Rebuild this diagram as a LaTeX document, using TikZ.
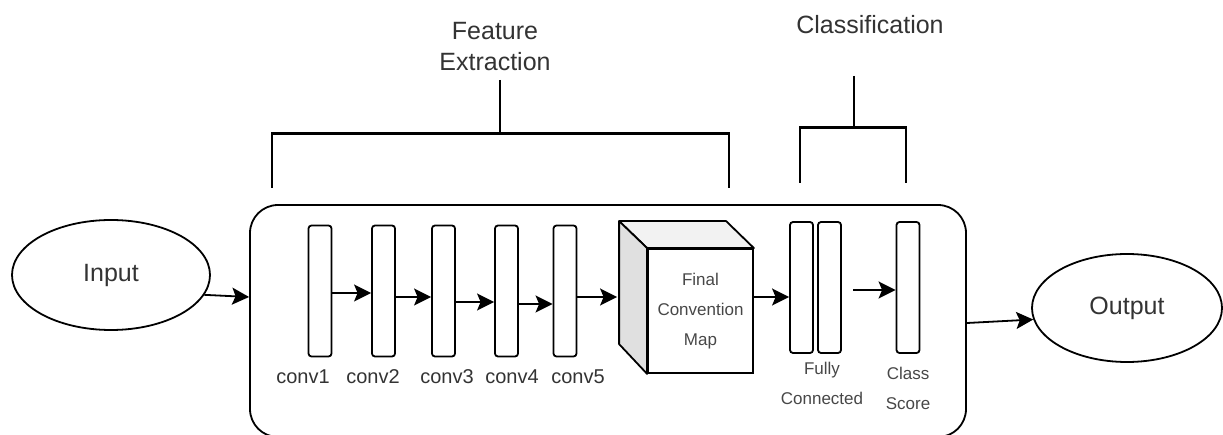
\documentclass[tikz,border=0pt]{standalone}
\usepackage{fontspec}
\setmainfont{Liberation Sans}
\usetikzlibrary{shapes.geometric,arrows.meta,calc}
\definecolor{txt}{HTML}{333333}
\definecolor{txtl}{HTML}{474747}
\definecolor{sidegray}{HTML}{E0E0E0}
\definecolor{topgray}{HTML}{F2F2F2}
\tikzset{
  lw/.style={line width=1.8pt},
  bar/.style={draw, lw, rounded corners=3pt, minimum width=23pt, minimum height=131pt, inner sep=0pt},
  oval/.style={draw, lw, ellipse, inner sep=0pt, text=txt, font=\fontsize{25}{30}\selectfont},
  arr/.style={lw, -{Stealth[length=17pt,width=17pt,inset=3.5pt]}},
  biglabel/.style={text=txt, font=\fontsize{25}{31}\selectfont, align=center, inner sep=0pt},
  convlabel/.style={text=txt, font=\fontsize{20}{24}\selectfont, inner sep=0pt},
  smalllabel/.style={text=txtl, font=\fontsize{17}{30}\selectfont, align=center, inner sep=0pt},
  bracket/.style={line width=2pt},
  bracketbar/.style={line width=3pt}
}
\begin{document}
\begin{tikzpicture}[x=1pt,y=-1pt]
\useasboundingbox (0,0) rectangle (1223,435);

% frame
\node[draw, lw, rounded corners=28pt, minimum width=716pt, minimum height=232pt, inner sep=0pt] (frame) at (608,321) {};

% input / output
\node[oval, minimum width=198pt, minimum height=110pt] (input) at (111,275) {Input};
\node[oval, minimum width=190pt, minimum height=108pt] (output) at (1127,308) {Output};

% conv bars
\node[bar] (c1) at (320,291) {};
\node[bar] (c2) at (383.5,291) {};
\node[bar] (c3) at (443.5,291) {};
\node[bar] (c4) at (506.5,291) {};
\node[bar] (c5) at (565,291) {};

\node[convlabel] (l1) at (303,377) {conv1};
\node[convlabel] (l2) at (373,377) {conv2};
\node[convlabel] (l3) at (447,377) {conv3};
\node[convlabel] (l4) at (512,377) {conv4};
\node[convlabel] (l5) at (578,377) {conv5};

% cube
\node[draw, lw, minimum width=105pt, minimum height=124pt, inner sep=0pt, smalllabel] (cube) at (700.5,311) {Final\\Convention\\Map};
\draw[lw, fill=topgray, line join=round] (cube.north west) -- ++(-28,-27) -- ++(107,0) -- (cube.north east) -- cycle;
\draw[lw, fill=sidegray, line join=round] (cube.north west) -- ++(-28,-27) -- ++(0,123) -- (cube.south west) -- cycle;

% FC and class
\node[bar] (f1) at (801.5,287.5) {};
\node[bar] (f2) at (829.5,287.5) {};
\node[bar] (cs) at (908,287.5) {};
\node[smalllabel] (fl) at (822,383) {Fully\\Connected};
\node[smalllabel] (cl) at (908,388) {Class\\Score};

% arrows
\draw[arr] (input.-12) -- (frame.west |- 0,297);
\draw[arr] (c1.east |- 0,293) -- (c2.west |- 0,293);
\draw[arr] (c2.east |- 0,297) -- (c3.west |- 0,297);
\draw[arr] (c3.east |- 0,302) -- (c4.west |- 0,302);
\draw[arr] (c4.east |- 0,304) -- (c5.west |- 0,304);
\draw[arr] (c5.east |- 0,297) -- ($(cube.west |- 0,297)+(-30,0)$);
\draw[arr] (cube.east |- 0,297) -- (f1.west |- 0,297);
\coordinate (fcout) at (853,290);
\draw[arr] (fcout) -- (cs.west |- fcout);
\draw[arr] (frame.east |- 0,323) -- (output.187);

% brackets
\node[biglabel] (fe) at (495,47) {Feature\\Extraction};
\node[biglabel] (cls) at (870,25) {Classification};
\draw[bracket] (272,188) -- (272,134);
\draw[bracket] (729,188) -- (729,134);
\draw[bracketbar] (271,134) -- (730,134);
\draw[bracket] (500,80) -- (500,134);
\draw[bracket] (800,183) -- (800,128);
\draw[bracket] (906,183) -- (906,128);
\draw[bracketbar] (799,128) -- (907,128);
\draw[bracket] (854,76) -- (854,128);
\end{tikzpicture}
\end{document}
